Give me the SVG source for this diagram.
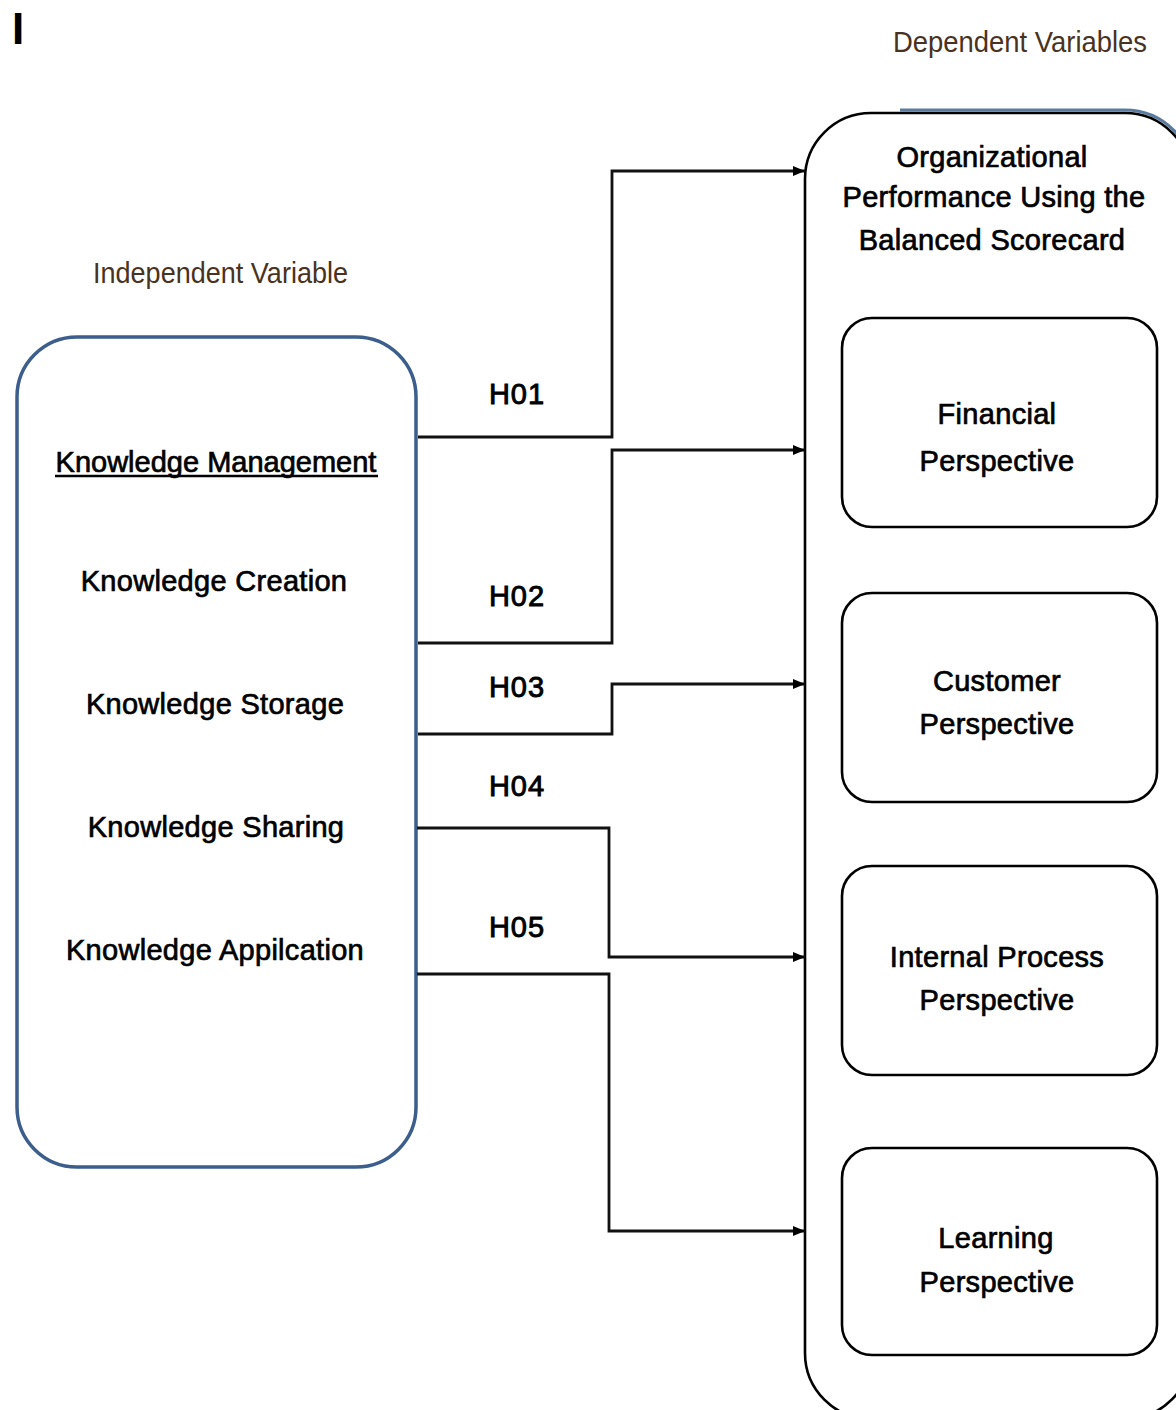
<svg xmlns="http://www.w3.org/2000/svg" width="1176" height="1410" viewBox="0 0 1176 1410">
  <style>
    .lbl { font-family: "Liberation Sans", Arial, sans-serif; font-size: 29px; fill: #000; stroke: #000; stroke-width: 0.7; text-anchor: middle; letter-spacing: 0.3px; }
    .hyp { font-family: "Liberation Sans", Arial, sans-serif; font-size: 29px; fill: #000; stroke: #000; stroke-width: 0.9; text-anchor: middle; letter-spacing: 1px; }
    .cap { font-family: "Liberation Sans", Arial, sans-serif; font-size: 29px; fill: #4a3220; text-anchor: start; }
    .inner { fill: #fff; stroke: #000; stroke-width: 2.6; }
    .conn { fill: none; stroke: #111; stroke-width: 2.8; }
  </style>
  <defs>
    <marker id="arrow" markerWidth="12" markerHeight="10" refX="12" refY="5" orient="auto" markerUnits="userSpaceOnUse">
      <path d="M0,0 L12,5 L0,10 Z" fill="#000"/>
    </marker>
  </defs>

  <rect width="1176" height="1410" fill="#fff"/>

  <!-- stray heading character -->
  <text x="12" y="44" font-family="Liberation Sans, Arial, sans-serif" font-size="44" font-weight="bold" fill="#000">I</text>

  <!-- section captions -->
  <text class="cap" x="893" y="52" textLength="254" lengthAdjust="spacingAndGlyphs">Dependent Variables</text>
  <text class="cap" x="93" y="283" textLength="255" lengthAdjust="spacingAndGlyphs">Independent Variable</text>

  <!-- independent variable block -->
  <g id="independent">
    <rect x="17" y="337" width="399" height="830" rx="60" ry="60" fill="#fff" stroke="#3b5e8c" stroke-width="3.5"/>
    <text class="lbl" x="216" y="472" style="letter-spacing:0">Knowledge Management</text>
    <line x1="55" y1="476" x2="378" y2="476" stroke="#000" stroke-width="2.5"/>
    <text class="lbl" x="214" y="591">Knowledge Creation</text>
    <text class="lbl" x="215" y="714">Knowledge Storage</text>
    <text class="lbl" x="216" y="837">Knowledge Sharing</text>
    <text class="lbl" x="215" y="960">Knowledge Appilcation</text>
  </g>

  <!-- dependent variable container -->
  <g id="dependent">
    <path d="M900,110 H1125 A69,69 0 0 1 1194,179" fill="none" stroke="#5a7aa0" stroke-width="3"/>
    <rect x="805" y="113" width="386" height="1306" rx="66" ry="66" fill="none" stroke="#000" stroke-width="2.6"/>
    <text class="lbl" x="992" y="167">Organizational</text>
    <text class="lbl" x="994" y="207">Performance Using the</text>
    <text class="lbl" x="992" y="250">Balanced Scorecard</text>
  </g>

  <g id="financial">
    <rect class="inner" x="842" y="318" width="315" height="209" rx="30" ry="30"/>
    <text class="lbl" x="997" y="424">Financial</text>
    <text class="lbl" x="997" y="471">Perspective</text>
  </g>

  <g id="customer">
    <rect class="inner" x="842" y="593" width="315" height="209" rx="30" ry="30"/>
    <text class="lbl" x="997" y="691">Customer</text>
    <text class="lbl" x="997" y="734">Perspective</text>
  </g>

  <g id="internal-process">
    <rect class="inner" x="842" y="866" width="315" height="209" rx="30" ry="30"/>
    <text class="lbl" x="997" y="967">Internal Process</text>
    <text class="lbl" x="997" y="1010">Perspective</text>
  </g>

  <g id="learning">
    <rect class="inner" x="842" y="1148" width="315" height="207" rx="30" ry="30"/>
    <text class="lbl" x="996" y="1248">Learning</text>
    <text class="lbl" x="997" y="1292">Perspective</text>
  </g>

  <!-- hypothesis connectors -->
  <g id="connectors">
    <path class="conn" d="M418,437 H612 V171 H805" marker-end="url(#arrow)"/>
    <path class="conn" d="M418,643 H612 V450 H805" marker-end="url(#arrow)"/>
    <path class="conn" d="M418,734 H612 V684 H805" marker-end="url(#arrow)"/>
    <path class="conn" d="M417,828 H609 V957 H805" marker-end="url(#arrow)"/>
    <path class="conn" d="M417,974 H609 V1231 H805" marker-end="url(#arrow)"/>
    <text class="hyp" x="517" y="404">H01</text>
    <text class="hyp" x="517" y="606">H02</text>
    <text class="hyp" x="517" y="697">H03</text>
    <text class="hyp" x="517" y="796">H04</text>
    <text class="hyp" x="517" y="937">H05</text>
  </g>
</svg>
